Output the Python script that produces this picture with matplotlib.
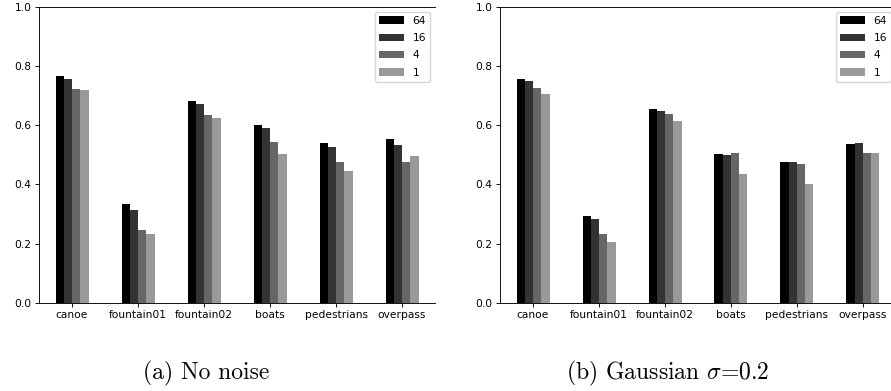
import matplotlib
matplotlib.use("Agg")
import matplotlib.pyplot as plt
import numpy as np

# scene names on the x axis
scenes = ['canoe', 'fountain01', 'fountain02', 'boats', 'pedestrians', 'overpass']
series_labels = ['64', '16', '4', '1']
series_colors = ['#000000', '#333333', '#666666', '#999999']

# (a) no noise
no_noise_64 = [0.765, 0.334, 0.681, 0.599, 0.539, 0.553]
no_noise_16 = [0.755, 0.312, 0.670, 0.589, 0.526, 0.532]
no_noise_4 = [0.722, 0.245, 0.633, 0.543, 0.475, 0.477]
no_noise_1 = [0.717, 0.232, 0.624, 0.502, 0.445, 0.494]

# (b) gaussian sigma=0.2
gauss_64 = [0.757, 0.293, 0.654, 0.502, 0.474, 0.537]
gauss_16 = [0.749, 0.283, 0.649, 0.499, 0.474, 0.539]
gauss_4 = [0.724, 0.231, 0.637, 0.507, 0.467, 0.507]
gauss_1 = [0.705, 0.206, 0.613, 0.435, 0.400, 0.507]

captions = ['(a) No noise', r'(b) Gaussian $\sigma$=0.2']

plt.rcParams['mathtext.fontset'] = 'cm'

W, H = 891, 391
fig = plt.figure(figsize=(W / 100, H / 100), dpi=100)

fs = 7.7
lw = 0.65


def draw_panel(ax, series):
    x = np.arange(len(scenes))
    width = 0.125
    for i, (vals, lab, col) in enumerate(zip(series, series_labels, series_colors)):
        ax.bar(x + (i - 1.5) * width, vals, width, color=col, label=lab)
    ax.set_xlim(-0.5, 5.5)
    ax.set_ylim(0, 1.0)
    ax.set_xticks(x)
    ax.set_xticklabels(scenes)
    ax.set_yticks([0.0, 0.2, 0.4, 0.6, 0.8, 1.0])
    ax.tick_params(labelsize=fs, width=lw, length=2.7, pad=2.7)
    ax.spines['right'].set_visible(False)
    for s in ['left', 'top', 'bottom']:
        ax.spines[s].set_linewidth(lw)
    ax.legend(loc='upper right', fontsize=fs, handlelength=2.3,
              labelspacing=0.68, borderaxespad=0.45)


ax1 = fig.add_axes([39 / W, 88.3 / H, 396 / W, 296 / H])
draw_panel(ax1, [no_noise_64, no_noise_16, no_noise_4, no_noise_1])

ax2 = fig.add_axes([500 / W, 88.3 / H, 396 / W, 296 / H])
draw_panel(ax2, [gauss_64, gauss_16, gauss_4, gauss_1])

fig.text(206 / W, 1 - 373 / H, captions[0], fontfamily='cmr10', fontsize=17,
         ha='center', va='center')
fig.text(668 / W, 1 - 373 / H, captions[1], fontfamily='cmr10', fontsize=17,
         ha='center', va='center')

fig.savefig('out.png', dpi=100)
